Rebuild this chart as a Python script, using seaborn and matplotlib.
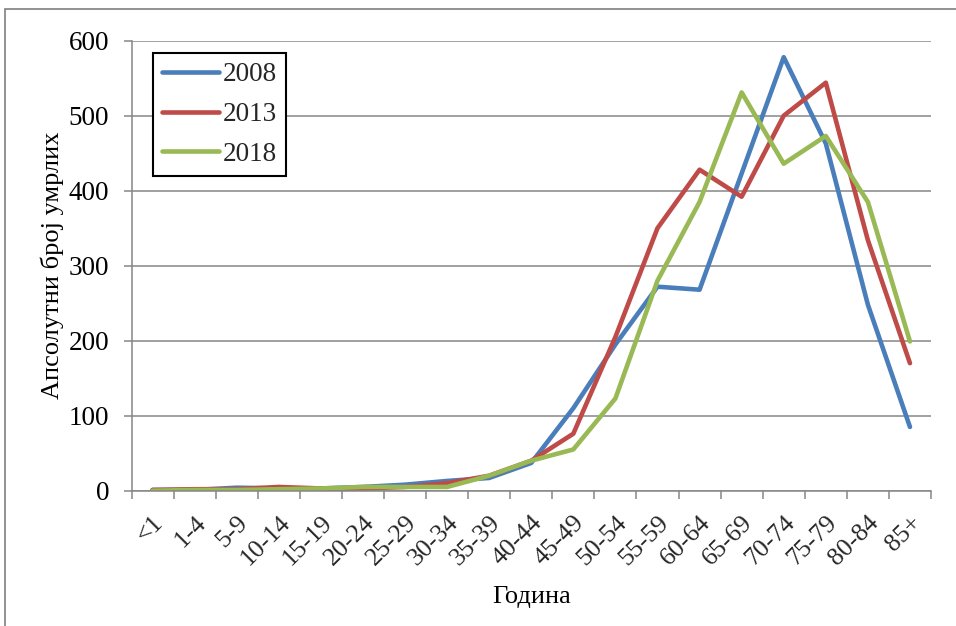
import numpy as np
import pandas as pd
import matplotlib
matplotlib.use("Agg")
import matplotlib.pyplot as plt
from matplotlib.patches import Rectangle
import seaborn as sns

# Age groups and number of deaths per year
age_groups = ["<1", "1-4", "5-9", "10-14", "15-19", "20-24", "25-29", "30-34",
              "35-39", "40-44", "45-49", "50-54", "55-59", "60-64", "65-69",
              "70-74", "75-79", "80-84", "85+"]
deaths_2008 = [1, 1, 4, 3, 3, 5, 8, 13, 17, 37, 110, 195, 272, 268, 423, 578, 463, 248, 85]
deaths_2013 = [1, 2, 2, 5, 3, 3, 5, 10, 20, 40, 76, 205, 350, 428, 392, 500, 544, 334, 170]
deaths_2018 = [0, 1, 1, 2, 3, 5, 5, 5, 20, 40, 55, 123, 280, 385, 531, 436, 473, 385, 199]
years = ["2008", "2013", "2018"]

df = pd.concat([
    pd.DataFrame({"Година": age_groups, "deaths": vals, "year": yr})
    for yr, vals in zip(years, [deaths_2008, deaths_2013, deaths_2018])
], ignore_index=True)
df["pos"] = df["Година"].map({g: i for i, g in enumerate(age_groups)})

sns.set_theme(style="white")
plt.rcParams["font.family"] = ["Liberation Serif", "DejaVu Serif"]

W, H, DPI = 956, 626, 100
fig = plt.figure(figsize=(W / DPI, H / DPI), dpi=DPI)
ax = fig.add_axes([131.5 / W, 1 - 490.7 / H, 799.5 / W, 450 / H])

palette = {"2008": "#4A7EBB", "2013": "#BE4B48", "2018": "#98B954"}
sns.lineplot(data=df, x="pos", y="deaths", hue="year", palette=palette,
             linewidth=3.3, ax=ax, legend=True, sort=False)
for ln in ax.lines:
    ln.set_solid_capstyle("round")
    ln.set_solid_joinstyle("round")

grid_col = "#868686"
fs = 18.5
fs_y = 19.5

ax.set_xlim(-0.5, len(age_groups) - 0.5)
ax.set_ylim(0, 600)
ax.set_yticks(np.arange(0, 601, 100))
ax.yaxis.grid(True, color=grid_col, linewidth=1.1)
ax.set_axisbelow(True)

ax.set_xticks(np.arange(len(age_groups)))
ax.set_xticklabels(age_groups, rotation=45, ha="right", va="top",
                   rotation_mode="anchor", fontsize=fs)
ax.set_xticks(np.arange(-0.5, len(age_groups)), minor=True)
ax.tick_params(axis="x", which="major", length=0, pad=15)
ax.tick_params(axis="x", which="minor", length=6, width=1.1, color=grid_col,
               direction="out", bottom=True)
ax.tick_params(axis="y", which="major", length=6, width=1.1, color=grid_col,
               direction="out", left=True, labelsize=fs_y, pad=10)
for lab in ax.get_yticklabels():
    lab.set_color("black")

for side in ["top", "right"]:
    ax.spines[side].set_visible(False)
for side in ["left", "bottom"]:
    ax.spines[side].set_color(grid_col)
    ax.spines[side].set_linewidth(1.1)

ax.set_xlabel("Година", fontsize=19, color="black")
ax.xaxis.set_label_coords(0.5, -0.2117)
ax.set_ylabel("Апсолутни број умрлих", fontsize=19, color="black")
ax.yaxis.set_label_coords(-0.0845, 0.5)

leg = ax.legend(loc="upper left", bbox_to_anchor=(0.0269, 0.9727),
                borderaxespad=0, fontsize=fs_y, frameon=True, fancybox=False,
                handlelength=2.1, handletextpad=0.12, labelspacing=0.54,
                borderpad=0.35)
leg.get_frame().set_edgecolor("black")
leg.get_frame().set_linewidth(1.5)
leg.get_frame().set_alpha(1)
for h in leg.get_lines():
    h.set_linewidth(3.3)
    h.set_solid_capstyle("round")

# outer frame of the chart area
fig.patches.append(Rectangle((5 / W, -0.05), 1.2, 1 - 9 / H + 0.05,
                             transform=fig.transFigure, fill=False,
                             edgecolor="#7F7F7F", linewidth=1.2))

fig.savefig("out.png", dpi=DPI)
